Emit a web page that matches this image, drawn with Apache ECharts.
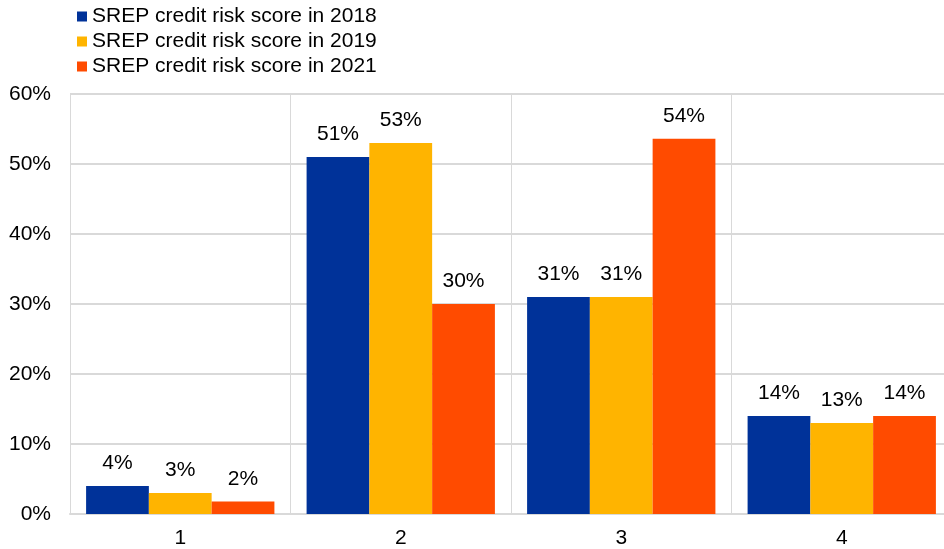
<!DOCTYPE html>
<html><head><meta charset="utf-8">
<script src="https://cdn.jsdelivr.net/npm/echarts@6/dist/echarts.min.js"></script>
<style>html,body{margin:0;padding:0;background:#fff}#c{width:944px;height:549px}</style>
</head><body><div id="c"></div>
<script>
const categories = ['1','2','3','4'];
const seriesNames = ['SREP credit risk score in 2018','SREP credit risk score in 2019','SREP credit risk score in 2021'];
const s2018 = [4.0, 51.0, 31.0, 14.0];
const s2019 = [3.0, 53.0, 31.0, 13.0];
const s2021 = [1.8, 30.0, 53.6, 14.0];
const colors = ['#003299','#FFB400','#FF4B00'];
const font = 'Liberation Sans, Arial, sans-serif';
const chart = echarts.init(document.getElementById('c'));
const mk = (name, data, color) => ({
  name, type:'bar', data, barGap:'0%', barCategoryGap:'14.6%',
  itemStyle:{color},
  label:{show:true, position:'top', distance:12, color:'#000', fontSize:21, fontFamily:font,
    formatter:p=>Math.round(p.value)+'%'}
});
chart.setOption({
  animation:false,
  color:colors,
  legend:{left:77, top:6, orient:'vertical', itemWidth:10, itemHeight:10, itemGap:4,
    icon:'rect', padding:0, textStyle:{fontSize:21, fontFamily:font, color:'#000'},
    data:seriesNames},
  grid:{left:70, width:882, top:94, bottom:35, outerBoundsMode:'none', containLabel:false},
  xAxis:{type:'category', data:categories,
    axisLine:{lineStyle:{color:'#d9d9d9', width:2}}, axisTick:{show:false},
    axisLabel:{fontSize:21, fontFamily:font, color:'#000', margin:14},
    splitLine:{show:true, lineStyle:{color:'#d9d9d9', width:1}}},
  yAxis:{type:'value', min:0, max:60, interval:10,
    axisLine:{show:true, lineStyle:{color:'#d9d9d9', width:1}}, axisTick:{show:false},
    axisLabel:{fontSize:21, fontFamily:font, color:'#000', margin:19, formatter:'{value}%'},
    splitLine:{lineStyle:{color:'#d9d9d9', width:2}}},
  series:[mk(seriesNames[0], s2018, colors[0]), mk(seriesNames[1], s2019, colors[1]), mk(seriesNames[2], s2021, colors[2])]
});
</script></body></html>
